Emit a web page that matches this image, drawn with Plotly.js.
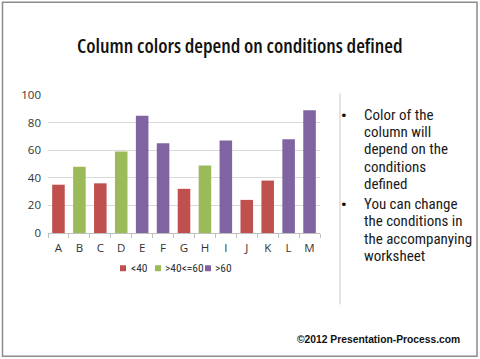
<!DOCTYPE html>
<html><head><meta charset="utf-8">
<script src="https://cdn.plot.ly/plotly-3.0.1.min.js"></script>
<style>html,body{margin:0;padding:0;background:#fff}#c{width:480px;height:359px}
#c .annotation[data-index="0"] text{font-stretch:condensed}</style>
</head><body><div id="c"></div>
<script>
var categories = ["A","B","C","D","E","F","G","H","I","J","K","L","M"];
var values = [35,48,36,59,85,65,32,49,67,24,38,68,89];
var seriesNames = ["<40", ">40<=60", ">60"];
var seriesColors = ["#C0504D", "#9BBB59", "#8064A2"];
var titleText = "Column colors depend on conditions defined";
var bulletLines1 = ["Color of the", "column will", "depend on the", "conditions", "defined"];
var bulletLines2 = ["You can change", "the conditions in", "the accompanying", "worksheet"];
var footerText = "©2012 Presentation-Process.com";

function groupOf(v){ return v < 40 ? 0 : (v <= 60 ? 1 : 2); }
var traces = seriesNames.map(function(name, g){
  var xs = [], ys = [];
  categories.forEach(function(c, i){ if (groupOf(values[i]) === g){ xs.push(c); ys.push(values[i]); } });
  return {type:"bar", name:name, x:xs, y:ys, width:0.6, marker:{color:seriesColors[g]}, showlegend:false};
});

var L = 48, R = 320, T = 94.7, B = 233.3;
function X(px){ return (px - L) / (R - L); }
function Y(py){ return (B - py) / (B - T); }

var COND = "Roboto Condensed, Roboto, sans-serif";
var ann = [], shapes = [];
ann.push({text:titleText, xref:"paper", yref:"paper", x:X(240), y:Y(45), xanchor:"center", yanchor:"middle", showarrow:false,
  font:{family:"Open Sans, sans-serif", size:20, weight:600, color:"#111"}});
var lineH = 17.2;
var bodyFont = {family:COND, size:15, color:"#1a1a1a"};
function addBlock(lines, y0){
  ann.push({text:"•", xref:"paper", yref:"paper", x:X(343.5), y:Y(y0), xanchor:"center", yanchor:"middle", showarrow:false,
    font:{family:"DejaVu Sans, sans-serif", size:13, color:"#111"}});
  lines.forEach(function(t, i){
    ann.push({text:t, xref:"paper", yref:"paper", x:X(361.5), y:Y(y0 + i*lineH), xanchor:"left", yanchor:"middle", align:"left", showarrow:false, font:bodyFont});
  });
}
addBlock(bulletLines1, 115);
addBlock(bulletLines2, 204.5);
ann.push({text:"<b>"+footerText+"</b>", xref:"paper", yref:"paper", x:X(462), y:Y(340), xanchor:"right", yanchor:"middle", showarrow:false,
  font:{family:"Liberation Sans, Arial, sans-serif", size:10.3, color:"#111"}});

// compact legend
var legSq = [120, 155, 205], legTx = [128.5, 163, 212.5], legY = 268.7;
seriesNames.forEach(function(n, g){
  shapes.push({type:"rect", xref:"paper", yref:"paper", x0:X(legSq[g]), x1:X(legSq[g]+6), y0:Y(legY-3), y1:Y(legY+3),
    fillcolor:seriesColors[g], line:{width:0}});
  ann.push({text:n.replace(/</g,"&lt;"), xref:"paper", yref:"paper", x:X(legTx[g]), y:Y(legY), xanchor:"left", yanchor:"middle", align:"left", showarrow:false,
    font:{family:COND, size:11.5, color:"#333"}});
});

shapes.push({type:"rect", xref:"paper", yref:"paper", x0:X(2.5), x1:X(477), y0:Y(1.5), y1:Y(357), line:{color:"#8c8c8c", width:1.5}});
shapes.push({type:"line", xref:"paper", yref:"paper", x0:X(340), x1:X(340), y0:Y(93), y1:Y(305), line:{color:"#c8c8c8", width:1}});

var layout = {
  width:480, height:359,
  margin:{l:L, r:480-R, t:T, b:359-B, pad:0},
  paper_bgcolor:"#fff", plot_bgcolor:"#fff",
  barmode:"overlay",
  showlegend:false,
  xaxis:{type:"category", categoryorder:"array", categoryarray:categories, range:[-0.5, 12.5],
    showline:true, linecolor:"#bfbfbf", linewidth:1, ticks:"outside", tickson:"boundaries", ticklen:4, tickcolor:"#bfbfbf",
    showgrid:false, tickfont:{family:"Open Sans, sans-serif", size:11.5, color:"#333"}, ticklabelstandoff:4, fixedrange:true},
  yaxis:{range:[0,100], dtick:20, showgrid:true, gridcolor:"#d9d9d9", gridwidth:1, zeroline:false, showline:false,
    ticks:"", tickfont:{family:"Open Sans, sans-serif", size:11.5, color:"#333"}, ticklabelstandoff:6, fixedrange:true},
  annotations:ann,
  shapes:shapes
};
Plotly.newPlot("c", traces, layout, {staticPlot:true, displayModeBar:false});
</script></body></html>
